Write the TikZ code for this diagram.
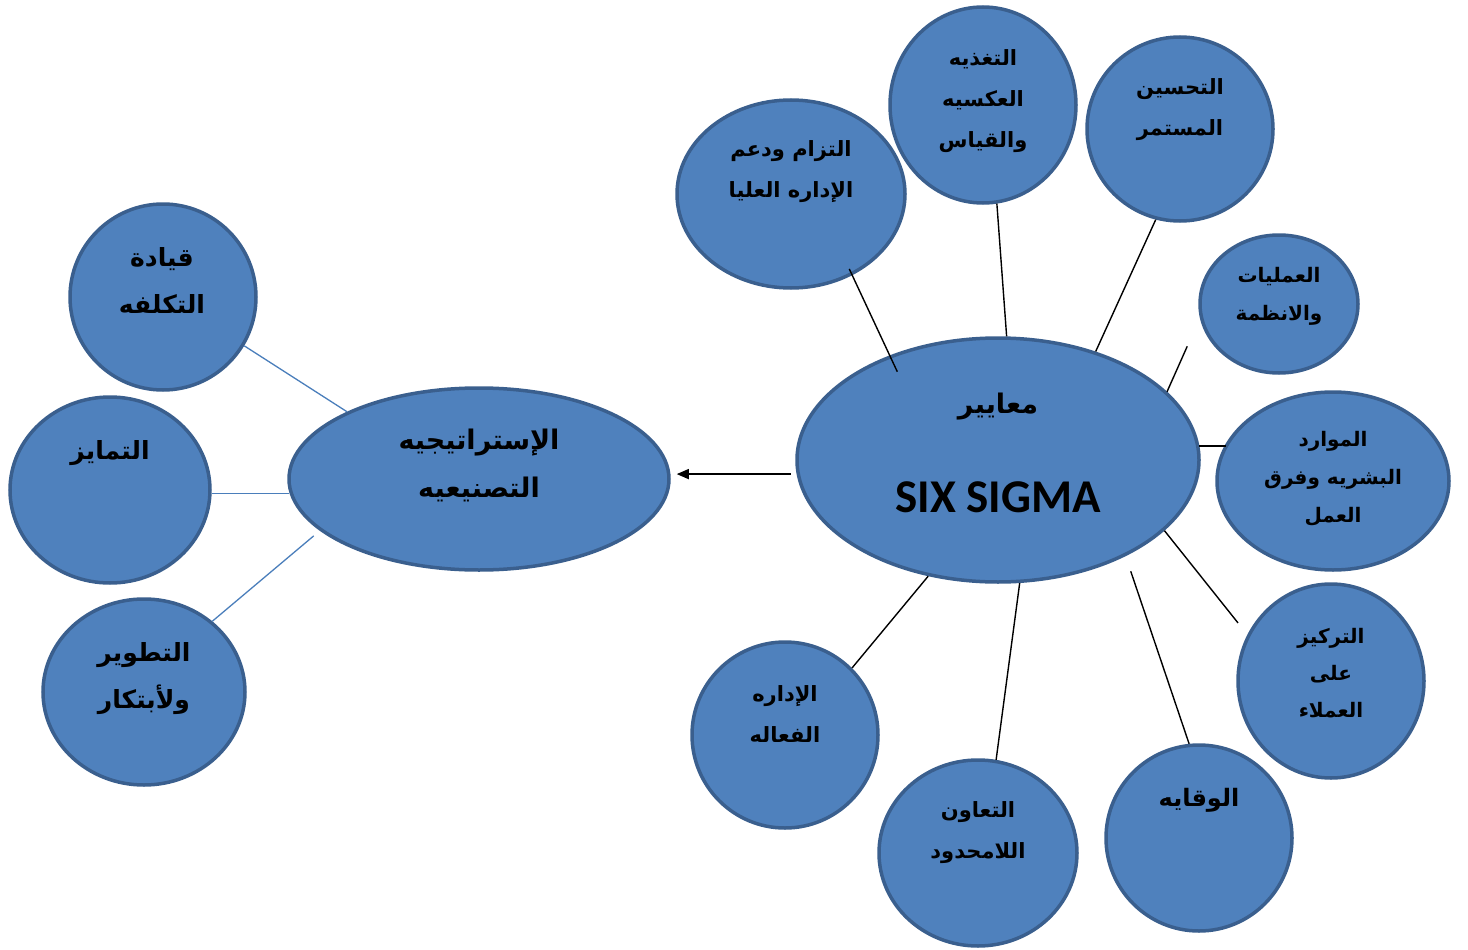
\documentclass[tikz,border=0pt]{standalone}
\usepackage{fontspec}
\newfontfamily\arabicfont[Script=Arabic]{DejaVu Sans}
\newfontfamily\calfont{Carlito}
\TeXXeTstate=1
\usetikzlibrary{shapes.geometric,arrows.meta}
\definecolor{bfill}{HTML}{4F81BD}
\definecolor{bdraw}{HTML}{3A5F8E}
\definecolor{bline}{HTML}{4A7EBB}
\begin{document}
\begin{tikzpicture}[x=1pt,y=-1pt,
  bub/.style={ellipse, fill=bfill, draw=bdraw, line width=3.5pt, inner sep=0pt},
  txts/.style={font=\arabicfont\bfseries\fontsize{21}{41}\selectfont, align=center, text=black, inner sep=0pt},
  txtm/.style={font=\arabicfont\bfseries\fontsize{25}{47}\selectfont, align=center, text=black, inner sep=0pt},
  txtl/.style={font=\arabicfont\bfseries\fontsize{27}{48}\selectfont, align=center, text=black, inner sep=0pt},
  conn/.style={draw=black, line width=1.4pt},
  bconn/.style={draw=bline, line width=1.3pt}]
\useasboundingbox (0,0) rectangle (1468,950);
% left group
\node[bub, minimum width=186pt, minimum height=186pt] (lead) at (163,297) {};
\node[bub, minimum width=200pt, minimum height=186pt] (diff) at (110,490) {};
\node[bub, minimum width=202pt, minimum height=186pt] (dev) at (144,692) {};
\node[bub, minimum width=380pt, minimum height=182pt] (strat) at (479,479) {};
% center
\node[bub, minimum width=402pt, minimum height=244pt] (c) at (998,460) {};
% right group
\node[bub, minimum width=228pt, minimum height=188pt] (commit) at (791,194) {};
\node[bub, minimum width=186pt, minimum height=196pt] (feed) at (983,105) {};
\node[bub, minimum width=186pt, minimum height=184pt] (impr) at (1180,129) {};
\node[bub, minimum width=158pt, minimum height=138pt] (ops) at (1279,304) {};
\node[bub, minimum width=232pt, minimum height=178pt] (hr) at (1333,481) {};
\node[bub, minimum width=186pt, minimum height=194pt] (cust) at (1331,681) {};
\node[bub, minimum width=186pt, minimum height=186pt] (prev) at (1199,838) {};
\node[bub, minimum width=198pt, minimum height=186pt] (coop) at (978,853) {};
\node[bub, minimum width=186pt, minimum height=186pt] (mgmt) at (785,735) {};
% texts
\node[txtm] (lead-t) at (162,281) {\beginR قيادة\endR\\\beginR التكلفه\endR};
\node[txtm] (diff-t) at (110,453) {\beginR التمايز\endR};
\node[txtm] (dev-t) at (144,679) {\beginR التطوير\endR\\\beginR ولأبتكار\endR};
\node[txtl] (strat-t) at (479,465) {\beginR الإستراتيجيه\endR\\\beginR التصنيعيه\endR};
\node[txtl] (c-t1) at (998,407) {\beginR معايير\endR};
\node[font=\calfont\bfseries\fontsize{47}{50}\selectfont, inner sep=0pt] (c-t2) at (998,497) {SIX SIGMA};
\node[txts] (commit-t) at (791,172) {\beginR التزام ودعم\endR\\\beginR الإداره العليا\endR};
\node[txts] (feed-t) at (983,101) {\beginR التغذيه\endR\\\beginR العكسيه\endR\\\beginR والقياس\endR};
\node[txts] (impr-t) at (1180,110) {\beginR التحسين\endR\\\beginR المستمر\endR};
\node[txts, font=\arabicfont\bfseries\fontsize{20}{38}\selectfont] (ops-t) at (1279,296) {\beginR العمليات\endR\\\beginR والانظمة\endR};
\node[txts, font=\arabicfont\bfseries\fontsize{20}{38}\selectfont] (hr-t) at (1333,479) {\beginR الموارد\endR\\\beginR البشريه وفرق\endR\\\beginR العمل\endR};
\node[txts, font=\arabicfont\bfseries\fontsize{20}{37}\selectfont] (cust-t) at (1331,673) {\beginR التركيز\endR\\\beginR على\endR\\\beginR العملاء\endR};
\node[txts, font=\arabicfont\bfseries\fontsize{24}{40}\selectfont] (prev-t) at (1199,800) {\beginR الوقايه\endR};
\node[txts] (coop-t) at (978,833) {\beginR التعاون\endR\\\beginR اللامحدود\endR};
\node[txts] (mgmt-t) at (785,714) {\beginR الإداره\endR\\\beginR الفعاله\endR};
% black connectors
\draw[conn, shorten <=-7pt, shorten >=-18pt] (commit.-53) -- (c.136.5);
\draw[conn] (feed.-82.6) -- (c.86.8);
\draw[conn] (impr.-105) -- (c.48.7);
\draw[conn, shorten >=31pt] (c.22.7) -- (ops.190);
\draw[conn] (c.4.3) -- (hr.161 |- c.4.3);
\draw[conn, shorten >=15pt] (c.-23.6) -- (cust.151);
\draw[conn, shorten <=16pt] (c.-37.4) -- (prev.96.7);
\draw[conn] (c.-80) -- (coop.79.6);
\draw[conn] (c.-121.3) -- (mgmt.45.9);
% arrow
\draw[conn, -{Triangle[length=12pt,width=10pt]}, shorten <=6pt, shorten >=6pt] (c.184.8) -- (strat.east |- c.184.8);
% blue connectors
\draw[bconn] (lead.-31.9) -- (strat.153.1);
\draw[bconn] (diff.-2.2) -- (strat.184.5 |- diff.-2.2);
\draw[bconn, shorten >=8pt] (dev.46.2) -- (strat.198.6);
\end{tikzpicture}
\end{document}
